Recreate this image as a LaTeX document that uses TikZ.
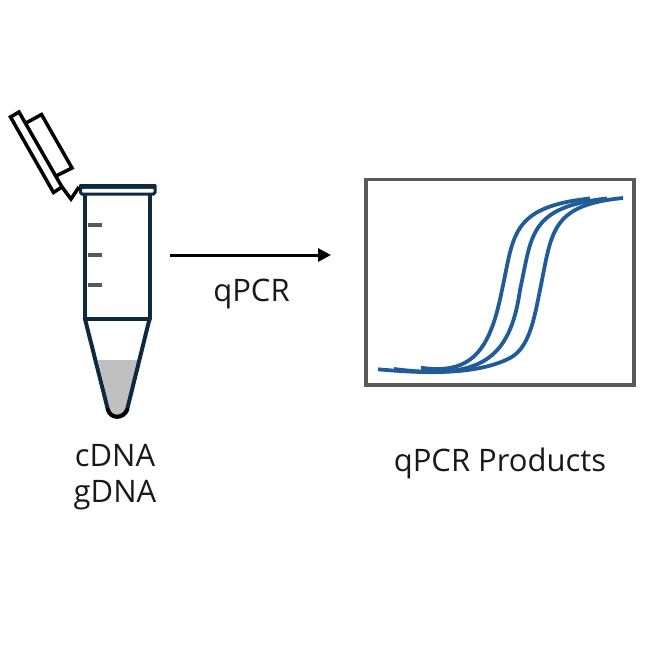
\documentclass[tikz,border=0pt]{standalone}
\usepackage{fontspec}
\setmainfont{Open Sans}
\usetikzlibrary{arrows.meta,positioning,calc}
\definecolor{tubeblue}{HTML}{0E2A40}
\definecolor{curveblue}{HTML}{1F5C99}
\definecolor{framegray}{HTML}{595959}
\definecolor{liquidgray}{HTML}{C0C0C0}
\tikzset{
    tubeline/.style={draw=tubeblue,line width=4pt,line join=round},
    lidline/.style={draw=black,line width=3.5pt,line join=miter},
    tickline/.style={draw=framegray,line width=3.2pt},
    curveline/.style={draw=curveblue,line width=3.8pt},
    framebox/.style={draw=framegray,line width=3.8pt},
    labeltext/.style={font=\fontsize{31}{36}\selectfont,inner sep=0pt,text=black!90}
}
\begin{document}
\begin{tikzpicture}[x=1pt,y=-1pt]
    \useasboundingbox (0,0) rectangle (645,645);
    % Liquid
    \fill[liquidgray] (98,360) -- (138,360) -- (126,410) -- (118,417) -- (110,410) -- cycle;
    % Tube
    \draw[tubeline] (85,192) -- (85,319) -- (149.5,319) -- (149.5,192);
    \draw[tubeline] (85,319) -- (108,410);
    \draw[tubeline] (149.5,319) -- (127,410);
    \draw[black,line width=4.2pt,line cap=round] (108,410) .. controls (111,419) and (123,419) .. (127,410);
    % Rim
    \draw[tubeblue,line width=3pt,rounded corners=1.5pt,fill=white] (80.5,187) rectangle (155,194);
    \fill[tubeblue,rounded corners=1pt] (79,184) rectangle (156.5,188.5);
    % Ticks
    \draw[tickline] (88,225) -- (102,225);
    \draw[tickline] (88,255) -- (102,255);
    \draw[tickline] (88,285) -- (102,285);
    % Lid
    \draw[lidline] (10.5,117) -- (19,112) -- (62,187) -- (53.5,192.5) -- cycle;
    \draw[lidline] (26,123) -- (41.5,114.5) -- (72,168) -- (57,175.5);
    \draw[lidline] (62,187) -- (71,199) -- (79,187);
    % Arrow
    \coordinate (arrowstart) at (170,255);
    \coordinate (arrowend) at (331,255);
    \draw[-{Triangle[length=13pt,width=13pt]},line width=3pt] (arrowstart) -- (arrowend);
    \node[labeltext] (qpcrlabel) at (251.5,294) {qPCR};
    % Plot
    \draw[framebox] (366,179.5) rectangle (634,385);
    \draw[curveline] (421,367.7) .. controls (475,376) and (491,345) .. (502,290) .. controls (514,236) and (510,207) .. (590,198.5);
    \draw[curveline] (394,369) .. controls (480,380) and (510,360) .. (520,290) .. controls (532,236) and (528,207) .. (607,198.5);
    \draw[curveline] (378,369.3) .. controls (420,373) and (475,376) .. (510,358) .. controls (529,348) and (534,320) .. (540,290) .. controls (552,232) and (550,205) .. (623,198);
    % Labels
    \node[labeltext] (cdnalabel) at (115,456) {cDNA};
    \node[labeltext] (gdnalabel) at (115,495) {gDNA};
    \node[labeltext] (productlabel) at (500,463) {qPCR Products};
\end{tikzpicture}
\end{document}
